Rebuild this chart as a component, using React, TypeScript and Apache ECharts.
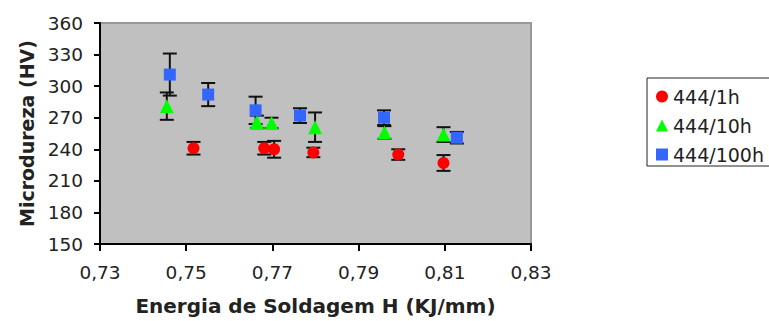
import React, { useEffect, useRef } from "react";
import * as echarts from "echarts";

const seriesNames = ["444/1h", "444/10h", "444/100h"];
const seriesColors = ["#ff0000", "#00ff00", "#3366ff"];
const seriesSymbols = ["circle", "triangle", "rect"];

// [energy (KJ/mm), microhardness (HV), error (HV)]
const data1h = [
  [0.7517, 241, 6],
  [0.7681, 241, 6],
  [0.7704, 240, 8],
  [0.7795, 237, 4.5],
  [0.7992, 235, 5],
  [0.8097, 227, 7.5],
];
const data10h = [
  [0.7455, 281, 13],
  [0.7664, 266, 6],
  [0.7698, 265, 5],
  [0.7799, 261, 14],
  [0.796, 256, 6],
  [0.8097, 254, 7],
];
const data100h = [
  [0.7462, 311, 20],
  [0.7551, 292, 11],
  [0.7661, 277, 13],
  [0.7764, 272, 7],
  [0.7959, 270, 7],
  [0.8128, 251, 5.5],
];
const allData = [data1h, data10h, data100h];

const xMin = 0.73;
const xMax = 0.83;
const xStep = 0.02;
const yMin = 150;
const yMax = 360;
const yStep = 30;

const FONT = "DejaVu Sans";

export default function App() {
  const ref = useRef<HTMLDivElement>(null);
  useEffect(() => {
    if (!ref.current) return;
    const chart = echarts.init(ref.current, null, { renderer: "svg" });
    const errorSeries = allData.map((d, i) => ({
      type: "custom",
      name: "err" + i,
      data: d,
      z: 1,
      encode: { x: 0, y: 1 },
      renderItem: (params: any, api: any) => {
        const x = api.value(0);
        const y = api.value(1);
        const e = api.value(2);
        const top = api.coord([x, y + e]);
        const bot = api.coord([x, y - e]);
        const hw = 7;
        const st = { stroke: "#111", lineWidth: 2 };
        return {
          type: "group",
          children: [
            { type: "line", shape: { x1: top[0], y1: top[1], x2: bot[0], y2: bot[1] }, style: st },
            { type: "line", shape: { x1: top[0] - hw, y1: top[1], x2: top[0] + hw, y2: top[1] }, style: st },
            { type: "line", shape: { x1: bot[0] - hw, y1: bot[1], x2: bot[0] + hw, y2: bot[1] }, style: st },
          ],
        };
      },
    }));
    const scatterSeries = allData.map((d, i) => ({
      type: "scatter",
      name: seriesNames[i],
      data: d.map((p) => [p[0], p[1]]),
      symbol: seriesSymbols[i],
      symbolSize: i === 1 ? 14 : 12,
      itemStyle: { color: seriesColors[i], opacity: 1 },
      z: 3,
    }));
    chart.setOption({
      animation: false,
      grid: {
        left: 100,
        right: 238,
        top: 23,
        bottom: 76,
        show: true,
        backgroundColor: "#c0c0c0",
        borderColor: "#999999",
        borderWidth: 2,
      },
      legend: {
        data: seriesNames.map((n, i) => ({ name: n, icon: seriesSymbols[i] })),
        orient: "vertical",
        left: 647,
        top: 78,
        padding: [9, 10, 2, 9],
        itemGap: 10,
        itemWidth: 12,
        itemHeight: 12,
        borderColor: "#222",
        borderWidth: 1,
        backgroundColor: "#ffffff",
        textStyle: { fontFamily: FONT, fontSize: 19, color: "#222" },
      },
      xAxis: {
        type: "value",
        min: xMin,
        max: xMax,
        interval: xStep,
        name: "Energia de Soldagem H (KJ/mm)",
        nameLocation: "middle",
        nameGap: 52,
        nameTextStyle: { fontFamily: FONT, fontSize: 20, fontWeight: "bold", color: "#222" },
        axisLine: { show: true, onZero: false, lineStyle: { color: "#000", width: 2 } },
        axisTick: { show: true, inside: false, length: 7, lineStyle: { color: "#000", width: 2 } },
        axisLabel: {
          margin: 19,
          fontFamily: FONT,
          fontSize: 18.5,
          color: "#222",
          formatter: (v: number) => v.toFixed(2).replace(".", ","),
        },
        splitLine: { show: false },
      },
      yAxis: {
        type: "value",
        min: yMin,
        max: yMax,
        interval: yStep,
        name: "Microdureza (HV)",
        nameLocation: "middle",
        nameGap: 62,
        nameTextStyle: { fontFamily: FONT, fontSize: 19, fontWeight: "bold", color: "#222" },
        axisLine: { show: true, onZero: false, lineStyle: { color: "#000", width: 2 } },
        axisTick: { show: true, inside: false, length: 6, lineStyle: { color: "#000", width: 2 } },
        axisLabel: { margin: 17, fontFamily: FONT, fontSize: 18.5, color: "#222" },
        splitLine: { show: false },
      },
      series: [...errorSeries, ...scatterSeries],
    });
    return () => chart.dispose();
  }, []);
  return (
    <div
      ref={ref}
      style={{ position: "fixed", left: 0, top: 0, width: 769, height: 321, background: "#fff" }}
    />
  );
}
